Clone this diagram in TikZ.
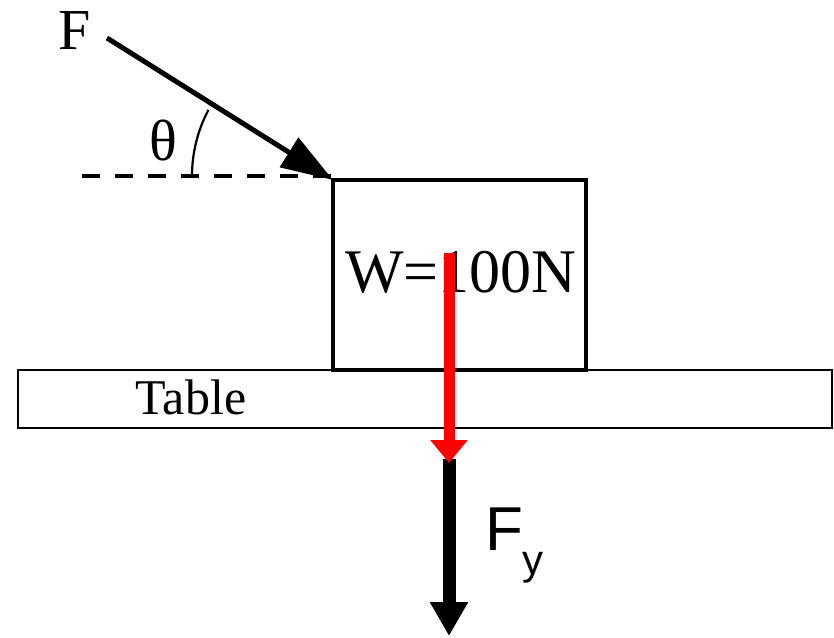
\documentclass[tikz,border=0pt]{standalone}
\usepackage{fontspec}
\setmainfont{Liberation Serif}
\setsansfont{Liberation Sans}
\usetikzlibrary{arrows.meta}
\begin{document}
\begin{tikzpicture}[x=1pt,y=-1pt,
  lbl/.style={inner sep=0pt,outer sep=0pt},
  outline/.style={draw=black,line width=3.2pt},
  tablebox/.style={draw=black,line width=1.8pt},
  forcearrow/.style={line width=5pt,-{Triangle[length=52pt,width=34pt]}},
  dashline/.style={line width=4pt,dash pattern=on 18pt off 15pt},
  anglearc/.style={line width=2.2pt},
  weightarrow/.style={draw=red,line width=11pt,-{Triangle[length=23pt,width=36pt]},color=red},
  fyarrow/.style={draw=black,line width=13pt,-{Triangle[length=34pt,width=36pt]}}]
\useasboundingbox (0,0) rectangle (834,637);
% table and block
\node[tablebox,minimum width=814pt,minimum height=58pt,anchor=north west,lbl] (table) at (18,370) {};
\node[outline,minimum width=253pt,minimum height=190pt,anchor=north west,lbl] (block) at (333,180) {};
\node[lbl,font=\fontsize{50}{50}\selectfont] (tabletxt) at (191,397) {Table};
\node[lbl,font=\fontsize{62}{62}\selectfont] (wtxt) at (461,272) {W=100N};
% applied force
\coordinate (fstart) at (107,38);
\coordinate (dstart) at (82,176);
\coordinate (arcstart) at (192,176);
\draw[dashline] (dstart) -- (block.north west |- dstart);
\draw[forcearrow] (fstart) -- (block.north west);
\draw[anglearc] (arcstart) arc[start angle=180,end angle=208,radius=141];
\node[lbl,font=\fontsize{58}{58}\selectfont] (flbl) at (75,31) {F};
\node[lbl,font=\fontsize{58}{58}\selectfont] (theta) at (163,141) {θ};
% vertical forces
\coordinate (wstart) at (449,253);
\coordinate (wend) at (449,463);
\coordinate (fyend) at (449,636);
\draw[fyarrow] (wend) ++(0,-4) -- (fyend);
\draw[weightarrow] (wstart) -- (wend);
\node[lbl,anchor=base west,font=\sffamily\fontsize{62}{62}\selectfont] (fy) at (485,550) {F\raisebox{-24pt}{\fontsize{42}{42}\selectfont y}};
\end{tikzpicture}
\end{document}
